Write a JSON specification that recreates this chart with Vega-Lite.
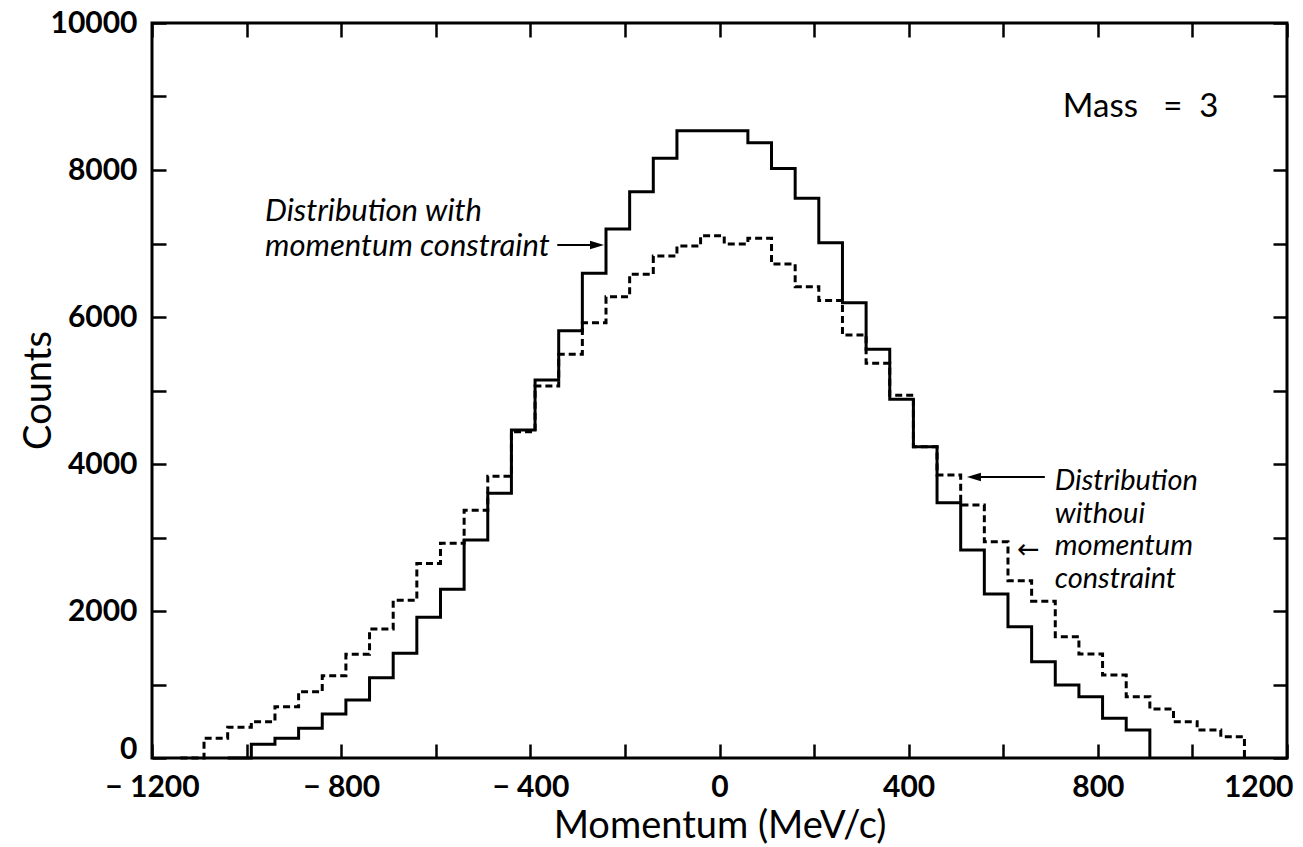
{
  "$schema": "https://vega.github.io/schema/vega-lite/v6.json",
  "width": 1135,
  "height": 735,
  "autosize": {"type": "none"},
  "padding": {"left": 152, "top": 23, "right": 16, "bottom": 89},
  "background": "white",
  "config": {
    "view": {"stroke": "black", "strokeWidth": 3},
    "axis": {
      "domain": false,
      "grid": false,
      "tickColor": "black",
      "tickWidth": 2.5,
      "tickSize": -14,
      "labelFont": "Lato",
      "labelFontWeight": "bold",
      "labelFontSize": 30,
      "labelColor": "black",
      "titleFont": "Lato",
      "titleFontSize": 38,
      "titleFontWeight": "normal",
      "titleColor": "black"
    }
  },
  "datasets": {
    "hist": [
      {"series": "with", "momentum": -1040, "counts": 0},
      {"series": "with", "momentum": -990, "counts": 186},
      {"series": "with", "momentum": -940, "counts": 268},
      {"series": "with", "momentum": -890, "counts": 404},
      {"series": "with", "momentum": -840, "counts": 599},
      {"series": "with", "momentum": -790, "counts": 789},
      {"series": "with", "momentum": -740, "counts": 1093},
      {"series": "with", "momentum": -690, "counts": 1424},
      {"series": "with", "momentum": -640, "counts": 1914},
      {"series": "with", "momentum": -590, "counts": 2295},
      {"series": "with", "momentum": -540, "counts": 2966},
      {"series": "with", "momentum": -490, "counts": 3601},
      {"series": "with", "momentum": -440, "counts": 4463},
      {"series": "with", "momentum": -390, "counts": 5143},
      {"series": "with", "momentum": -340, "counts": 5814},
      {"series": "with", "momentum": -290, "counts": 6594},
      {"series": "with", "momentum": -240, "counts": 7197},
      {"series": "with", "momentum": -190, "counts": 7705},
      {"series": "with", "momentum": -140, "counts": 8159},
      {"series": "with", "momentum": -90, "counts": 8535},
      {"series": "with", "momentum": -40, "counts": 8535},
      {"series": "with", "momentum": 10, "counts": 8535},
      {"series": "with", "momentum": 60, "counts": 8372},
      {"series": "with", "momentum": 110, "counts": 8022},
      {"series": "with", "momentum": 160, "counts": 7615},
      {"series": "with", "momentum": 210, "counts": 7011},
      {"series": "with", "momentum": 260, "counts": 6195},
      {"series": "with", "momentum": 310, "counts": 5560},
      {"series": "with", "momentum": 360, "counts": 4880},
      {"series": "with", "momentum": 410, "counts": 4235},
      {"series": "with", "momentum": 460, "counts": 3474},
      {"series": "with", "momentum": 510, "counts": 2830},
      {"series": "with", "momentum": 560, "counts": 2230},
      {"series": "with", "momentum": 610, "counts": 1787},
      {"series": "with", "momentum": 660, "counts": 1311},
      {"series": "with", "momentum": 710, "counts": 993},
      {"series": "with", "momentum": 760, "counts": 834},
      {"series": "with", "momentum": 810, "counts": 540},
      {"series": "with", "momentum": 860, "counts": 381},
      {"series": "with", "momentum": 910, "counts": 0},
      {"series": "without", "momentum": -1140, "counts": 0},
      {"series": "without", "momentum": -1090, "counts": 268},
      {"series": "without", "momentum": -1040, "counts": 420},
      {"series": "without", "momentum": -990, "counts": 494},
      {"series": "without", "momentum": -940, "counts": 698},
      {"series": "without", "momentum": -890, "counts": 902},
      {"series": "without", "momentum": -840, "counts": 1118},
      {"series": "without", "momentum": -790, "counts": 1410},
      {"series": "without", "momentum": -740, "counts": 1755},
      {"series": "without", "momentum": -690, "counts": 2145},
      {"series": "without", "momentum": -640, "counts": 2645},
      {"series": "without", "momentum": -590, "counts": 2921},
      {"series": "without", "momentum": -540, "counts": 3370},
      {"series": "without", "momentum": -490, "counts": 3835},
      {"series": "without", "momentum": -440, "counts": 4440},
      {"series": "without", "momentum": -390, "counts": 5061},
      {"series": "without", "momentum": -340, "counts": 5492},
      {"series": "without", "momentum": -290, "counts": 5923},
      {"series": "without", "momentum": -240, "counts": 6277},
      {"series": "without", "momentum": -190, "counts": 6580},
      {"series": "without", "momentum": -140, "counts": 6830},
      {"series": "without", "momentum": -90, "counts": 6966},
      {"series": "without", "momentum": -40, "counts": 7106},
      {"series": "without", "momentum": 10, "counts": 6993},
      {"series": "without", "momentum": 60, "counts": 7070},
      {"series": "without", "momentum": 110, "counts": 6721},
      {"series": "without", "momentum": 160, "counts": 6413},
      {"series": "without", "momentum": 210, "counts": 6226},
      {"series": "without", "momentum": 260, "counts": 5755},
      {"series": "without", "momentum": 310, "counts": 5370},
      {"series": "without", "momentum": 360, "counts": 4935},
      {"series": "without", "momentum": 410, "counts": 4235},
      {"series": "without", "momentum": 460, "counts": 3850},
      {"series": "without", "momentum": 510, "counts": 3442},
      {"series": "without", "momentum": 560, "counts": 2943},
      {"series": "without", "momentum": 610, "counts": 2412},
      {"series": "without", "momentum": 660, "counts": 2134},
      {"series": "without", "momentum": 710, "counts": 1651},
      {"series": "without", "momentum": 760, "counts": 1415},
      {"series": "without", "momentum": 810, "counts": 1129},
      {"series": "without", "momentum": 860, "counts": 834},
      {"series": "without", "momentum": 910, "counts": 667},
      {"series": "without", "momentum": 960, "counts": 494},
      {"series": "without", "momentum": 1010, "counts": 381},
      {"series": "without", "momentum": 1060, "counts": 290},
      {"series": "without", "momentum": 1110, "counts": 0}
    ],
    "notesLeft": [
      {"momentum": -961, "counts": 7306, "text": "Distribution with"},
      {"momentum": -961, "counts": 6830, "text": "momentum constraint"}
    ],
    "notesRight": [
      {"momentum": 709, "counts": 3646, "text": "Distribution"},
      {"momentum": 709, "counts": 3197, "text": "withoui"},
      {"momentum": 709, "counts": 2762, "text": "momentum"},
      {"momentum": 709, "counts": 2313, "text": "constraint"}
    ],
    "mass": [
      {"momentum": 726, "counts": 8721, "text": "Mass\u00a0\u00a0\u00a0=\u00a0\u00a03"}
    ],
    "shafts": [
      {"from": -343, "to": -268, "counts": 6980},
      {"from": 553, "to": 688, "counts": 3823}
    ],
    "heads": [
      {"momentum": -259, "counts": 6980, "dir": "right"},
      {"momentum": 538, "counts": 3823, "dir": "left"}
    ],
    "smallarrow": [
      {"momentum": 629, "counts": 2830, "text": "←"}
    ]
  },
  "layer": [
    {
      "data": {"name": "hist"},
      "mark": {"type": "line", "interpolate": "step-after", "color": "black", "strokeWidth": 3, "clip": false},
      "encoding": {
        "x": {
          "field": "momentum", "type": "quantitative",
          "scale": {"domain": [-1200, 1200], "nice": false, "zero": false},
          "axis": {
            "orient": "bottom",
            "values": [-1200, -1000, -800, -600, -400, -200, 0, 200, 400, 600, 800, 1000, 1200],
            "labelExpr": "datum.value % 400 == 0 ? (datum.value < 0 ? '\u2212 ' + abs(datum.value) : '' + datum.value) : ''",
            "labelPadding": 28,
            "labelFlush": false,
            "labelOverlap": false,
            "labelAlign": {"condition": {"test": "datum.value == 1200", "value": "right"}, "value": "center"},
            "labelOffset": {"condition": {"test": "datum.value == 1200", "value": 6}, "value": 0},
            "title": "Momentum (MeV/c)",
            "titleY": 79,
            "titleBaseline": "alphabetic"
          }
        },
        "y": {
          "field": "counts", "type": "quantitative",
          "scale": {"domain": [0, 10000], "nice": false},
          "axis": {
            "orient": "left",
            "values": [0, 1000, 2000, 3000, 4000, 5000, 6000, 7000, 8000, 9000, 10000],
            "labelExpr": "datum.value % 2000 == 0 ? '' + datum.value : ''",
            "labelPadding": 29,
            "labelFlush": false,
            "labelOverlap": false,
            "labelBaseline": {"condition": {"test": "datum.value == 0", "value": "alphabetic"}, "value": "middle"},
            "title": "Counts",
            "titleX": -102,
            "titleY": 367,
            "titleAngle": -90,
            "titleAlign": "center",
            "titleBaseline": "alphabetic"
          }
        },
        "strokeDash": {
          "field": "series", "type": "nominal",
          "scale": {"domain": ["with", "without"], "range": [[1, 0], [7, 4]]},
          "legend": null
        }
      }
    },
    {
      "data": {"name": "notesLeft"},
      "mark": {"type": "text", "font": "Lato", "fontStyle": "italic", "fontSize": 31, "align": "left", "baseline": "alphabetic", "color": "black"},
      "encoding": {
        "x": {
          "field": "momentum", "type": "quantitative",
          "scale": {"domain": [-1200, 1200], "nice": false, "zero": false},
          "axis": {
            "orient": "top",
            "values": [-1200, -1000, -800, -600, -400, -200, 0, 200, 400, 600, 800, 1000, 1200],
            "labels": false,
            "title": null
          }
        },
        "y": {
          "field": "counts", "type": "quantitative",
          "scale": {"domain": [0, 10000], "nice": false},
          "axis": {
            "orient": "right",
            "values": [0, 1000, 2000, 3000, 4000, 5000, 6000, 7000, 8000, 9000, 10000],
            "labels": false,
            "title": null
          }
        },
        "text": {"field": "text"}
      }
    },
    {
      "data": {"name": "notesRight"},
      "mark": {"type": "text", "font": "Lato", "fontStyle": "italic", "fontSize": 29, "align": "left", "baseline": "alphabetic", "color": "black"},
      "encoding": {
        "x": {"field": "momentum", "type": "quantitative", "scale": {"domain": [-1200, 1200], "nice": false, "zero": false}, "axis": null},
        "y": {"field": "counts", "type": "quantitative", "scale": {"domain": [0, 10000], "nice": false}, "axis": null},
        "text": {"field": "text"}
      }
    },
    {
      "data": {"name": "mass"},
      "mark": {"type": "text", "font": "Lato", "fontSize": 33, "align": "left", "baseline": "alphabetic", "color": "black"},
      "encoding": {
        "x": {"field": "momentum", "type": "quantitative", "scale": {"domain": [-1200, 1200], "nice": false, "zero": false}, "axis": null},
        "y": {"field": "counts", "type": "quantitative", "scale": {"domain": [0, 10000], "nice": false}, "axis": null},
        "text": {"field": "text"}
      }
    },
    {
      "data": {"name": "shafts"},
      "mark": {"type": "rule", "color": "black", "strokeWidth": 2},
      "encoding": {
        "x": {"field": "from", "type": "quantitative", "scale": {"domain": [-1200, 1200], "nice": false, "zero": false}, "axis": null},
        "x2": {"field": "to"},
        "y": {"field": "counts", "type": "quantitative", "scale": {"domain": [0, 10000], "nice": false}, "axis": null}
      }
    },
    {
      "data": {"name": "heads"},
      "mark": {"type": "point", "filled": true, "color": "black", "opacity": 1, "size": 196, "strokeWidth": 0},
      "encoding": {
        "x": {"field": "momentum", "type": "quantitative", "scale": {"domain": [-1200, 1200], "nice": false, "zero": false}, "axis": null},
        "y": {"field": "counts", "type": "quantitative", "scale": {"domain": [0, 10000], "nice": false}, "axis": null},
        "shape": {
          "field": "dir", "type": "nominal",
          "scale": {"domain": ["right", "left"], "range": ["M-1,-0.6L1,0L-1,0.6Z", "M1,-0.6L-1,0L1,0.6Z"]},
          "legend": null
        }
      }
    },
    {
      "data": {"name": "smallarrow"},
      "mark": {"type": "text", "font": "DejaVu Sans", "fontSize": 27, "align": "left", "baseline": "middle", "color": "black"},
      "encoding": {
        "x": {"field": "momentum", "type": "quantitative", "scale": {"domain": [-1200, 1200], "nice": false, "zero": false}, "axis": null},
        "y": {"field": "counts", "type": "quantitative", "scale": {"domain": [0, 10000], "nice": false}, "axis": null},
        "text": {"field": "text"}
      }
    }
  ],
  "resolve": {"axis": {"x": "independent", "y": "independent"}}
}
